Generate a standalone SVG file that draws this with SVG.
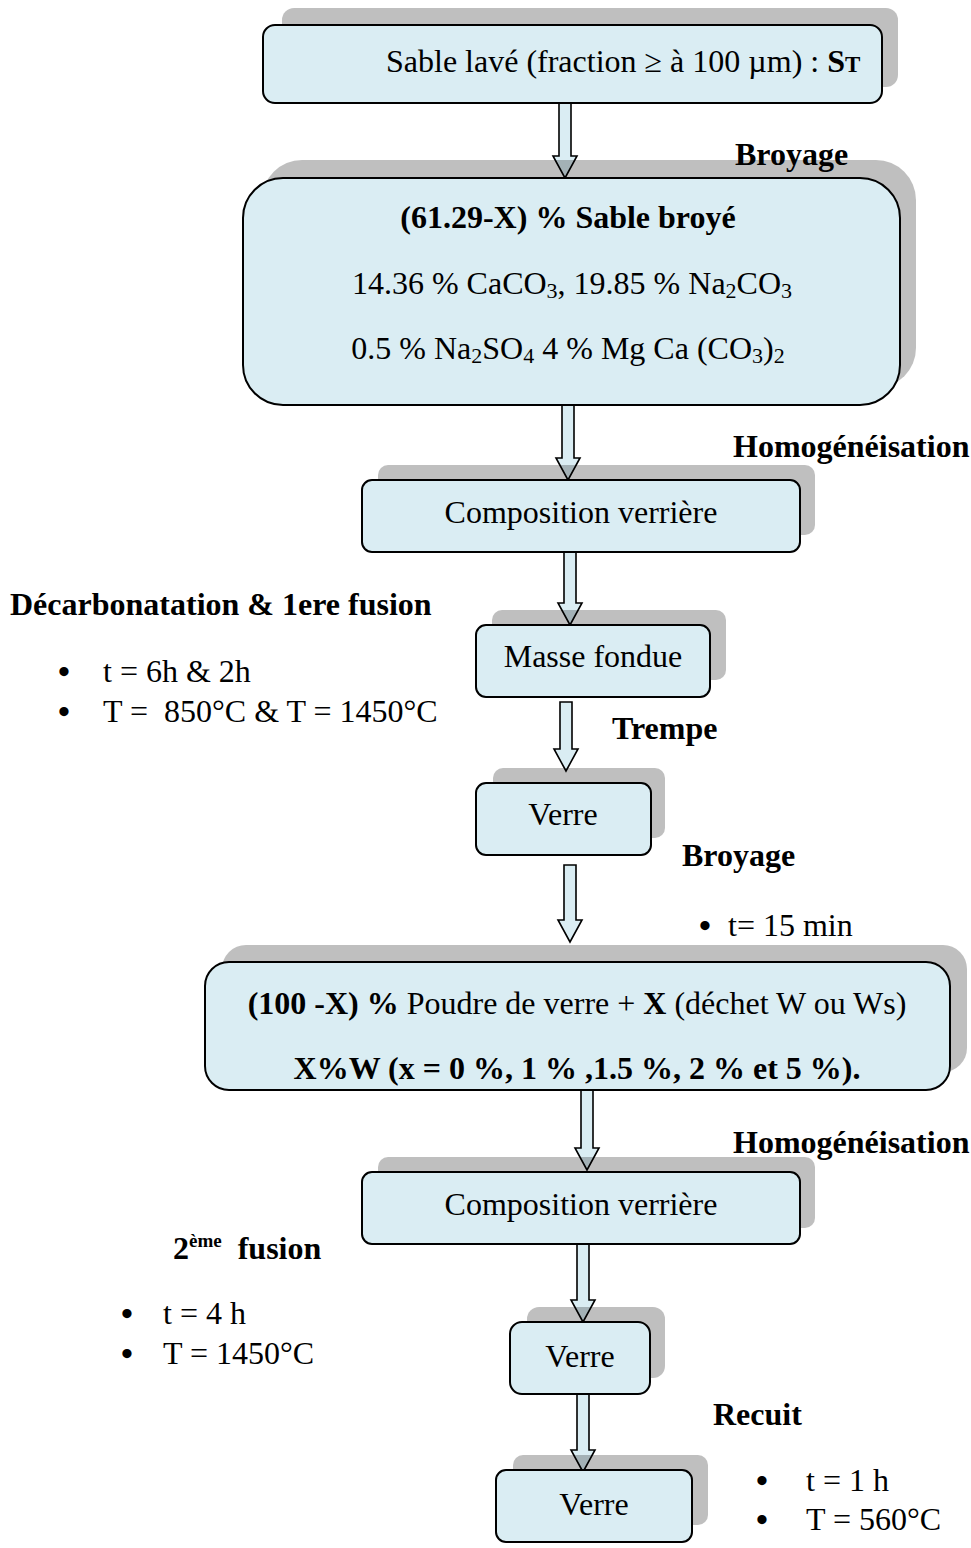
<svg xmlns="http://www.w3.org/2000/svg" width="971" height="1548" viewBox="0 0 971 1548">
<style>
.sh{fill:#000;fill-opacity:0.25}
.bx{fill:#daedf3;stroke:#000;stroke-width:2}
.ar{fill:#daedf3;stroke:#000;stroke-width:1.6;stroke-linejoin:miter}
.t{font-family:"Liberation Serif","Times New Roman",serif;font-size:32px;fill:#000}
.bu{font-family:"Liberation Serif","Times New Roman",serif;font-size:34px;font-weight:bold;fill:#000}
.b{font-weight:bold}
.m{text-anchor:middle}
</style>
<rect width="971" height="1548" fill="#fff"/>
<g id="connectors">
<polygon class="ar" points="559,103 571,103 571,156 577,156 565,178 553,156 559,156"/>
<polygon class="ar" points="562,405 574,405 574,458 580,458 568,480 556,458 562,458"/>
<polygon class="ar" points="564,552 576,552 576,603 582,603 570,625 558,603 564,603"/>
<polygon class="ar" points="560,702 572,702 572,749 578,749 566,771 554,749 560,749"/>
<polygon class="ar" points="564,865 576,865 576,920 582,920 570,942 558,920 564,920"/>
<polygon class="ar" points="581,1090 593,1090 593,1148 599,1148 587,1170 575,1148 581,1148"/>
<polygon class="ar" points="577,1244 589,1244 589,1300 595,1300 583,1322 571,1300 577,1300"/>
<polygon class="ar" points="577,1394 589,1394 589,1450 595,1450 583,1472 571,1450 577,1450"/>
</g>
<g id="n1">
<rect class="sh" x="282" y="8" width="616" height="79" rx="12"/>
<rect class="bx" x="263" y="25" width="619" height="78" rx="12"/>
<text class="t" x="386" y="72">Sable lavé (fraction ≥ à 100 µm) : <tspan class="b">S</tspan><tspan class="b" font-size="23">T</tspan></text>
</g>
<g id="n2">
<rect class="sh" x="262" y="160" width="654" height="228" rx="40"/>
<rect class="bx" x="243" y="178" width="657" height="227" rx="40"/>
<text class="t b m" x="568" y="228">(61.29-X) % Sable broyé</text>
<text class="t m" x="572" y="294">14.36 % CaCO<tspan font-size="22" dy="4">3</tspan><tspan dy="-4">, 19.85 % Na</tspan><tspan font-size="22" dy="4">2</tspan><tspan dy="-4">CO</tspan><tspan font-size="22" dy="4">3</tspan></text>
<text class="t m" x="568" y="359">0.5 % Na<tspan font-size="22" dy="4">2</tspan><tspan dy="-4">SO</tspan><tspan font-size="22" dy="4">4</tspan><tspan dy="-4"> 4 % Mg Ca (CO</tspan><tspan font-size="22" dy="4">3</tspan><tspan dy="-4">)</tspan><tspan font-size="22" dy="4">2</tspan></text>
</g>
<g id="n3">
<rect class="sh" x="378" y="465" width="437" height="70" rx="10"/>
<rect class="bx" x="362" y="480" width="438" height="72" rx="10"/>
<text class="t m" x="581" y="523">Composition verrière</text>
</g>
<g id="n4">
<rect class="sh" x="492" y="610" width="234" height="70" rx="10"/>
<rect class="bx" x="476" y="625" width="234" height="72" rx="10"/>
<text class="t m" x="593" y="667">Masse fondue</text>
</g>
<g id="n5">
<rect class="sh" x="493" y="768" width="172" height="70" rx="10"/>
<rect class="bx" x="476" y="783" width="175" height="72" rx="10"/>
<text class="t m" x="563" y="825">Verre</text>
</g>
<g id="n6">
<rect class="sh" x="222" y="945" width="745" height="127" rx="24"/>
<rect class="bx" x="205" y="962" width="745" height="128" rx="24"/>
<text class="t m" x="577" y="1014"><tspan class="b">(100 -X) %</tspan> Poudre de verre + <tspan class="b">X</tspan> (déchet W ou Ws)</text>
<text class="t b m" x="577" y="1079">X%W (x = 0 %, 1 % ,1.5 %, 2 % et 5 %).</text>
</g>
<g id="n7">
<rect class="sh" x="378" y="1157" width="437" height="71" rx="10"/>
<rect class="bx" x="362" y="1172" width="438" height="72" rx="10"/>
<text class="t m" x="581" y="1215">Composition verrière</text>
</g>
<g id="n8">
<rect class="sh" x="527" y="1307" width="138" height="71" rx="12"/>
<rect class="bx" x="510" y="1322" width="140" height="72" rx="12"/>
<text class="t m" x="580" y="1367">Verre</text>
</g>
<g id="n9">
<rect class="sh" x="513" y="1455" width="195" height="70" rx="10"/>
<rect class="bx" x="496" y="1470" width="196" height="72" rx="10"/>
<text class="t m" x="594" y="1515">Verre</text>
</g>
<g id="labels">
<text class="t b" x="735" y="165">Broyage</text>
<text class="t b" x="733" y="457">Homogénéisation</text>
<text class="t b" x="10" y="615">Décarbonatation &amp; 1ere fusion</text>
<text class="bu" x="58" y="683">•</text>
<text class="t" x="103" y="682">t = 6h &amp; 2h</text>
<text class="bu" x="58" y="723">•</text>
<text class="t" x="103" y="722" xml:space="preserve">T =  850°C &amp; T = 1450°C</text>
<text class="t b" x="612" y="739">Trempe</text>
<text class="t b" x="682" y="866">Broyage</text>
<text class="bu" x="699" y="937">•</text>
<text class="t" x="728" y="936">t= 15 min</text>
<text class="t b" x="733" y="1153">Homogénéisation</text>
<text class="t b" x="173" y="1259">2<tspan font-size="19" dy="-12">ème</tspan><tspan dy="12" xml:space="preserve">  fusion</tspan></text>
<text class="bu" x="121" y="1325">•</text>
<text class="t" x="163" y="1324">t = 4 h</text>
<text class="bu" x="121" y="1365">•</text>
<text class="t" x="163" y="1364">T = 1450°C</text>
<text class="t b" x="713" y="1425">Recuit</text>
<text class="bu" x="756" y="1492">•</text>
<text class="t" x="806" y="1491">t = 1 h</text>
<text class="bu" x="756" y="1531">•</text>
<text class="t" x="806" y="1530">T = 560°C</text>
</g>
</svg>
